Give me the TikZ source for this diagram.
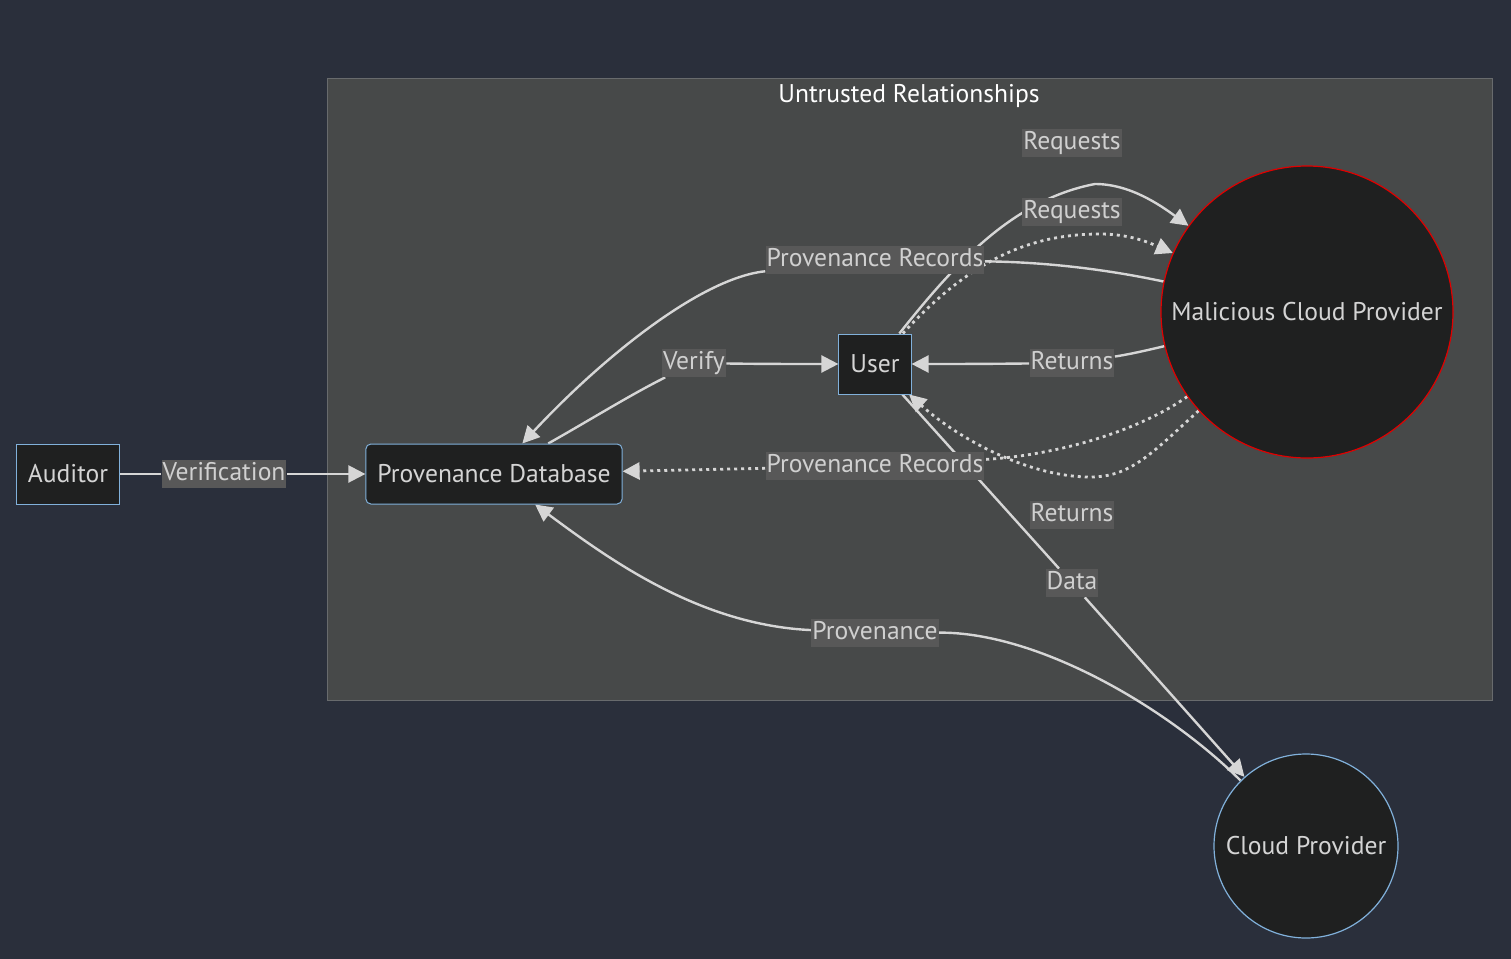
\documentclass[tikz,border=0pt]{standalone}
\usepackage{fontspec}
\setmainfont{PT Sans}
\usetikzlibrary{arrows.meta}

\definecolor{bgcol}{HTML}{2A2F3B}
\definecolor{clusterfill}{HTML}{474949}
\definecolor{clusterline}{HTML}{686B6D}
\definecolor{nodefill}{HTML}{1F2020}
\definecolor{nodeline}{HTML}{81B1DB}
\definecolor{nodetext}{HTML}{D4D4D4}
\definecolor{lblfill}{HTML}{585858}
\definecolor{lbltext}{HTML}{D0D0D0}
\definecolor{linecol}{HTML}{D6D6D6}
\definecolor{evilline}{HTML}{E00000}

\pgfdeclarelayer{back}
\pgfdeclarelayer{edges}
\pgfsetlayers{back,edges,main}

\tikzset{
  labelfont/.style={font=\fontsize{12.8}{15}\selectfont},
  nodebox/.style={draw=nodeline, fill=nodefill, line width=0.5pt, text=nodetext,
    minimum height=30pt, inner xsep=5.75pt, labelfont},
  dbbox/.style={nodebox, rounded corners=2.5pt},
  cloudnode/.style={circle, fill=nodefill, line width=0.6pt, text=nodetext, inner sep=0pt, labelfont},
  lbl/.style={fill=lblfill, text=lbltext, inner xsep=0.5pt, inner ysep=1pt,
    text height=9.2pt, text depth=2.8pt, labelfont},
  conn/.style={draw=linecol, line width=1.2pt},
  arr/.style={-{Triangle[length=8.5pt,width=8.5pt]}},
  dotline/.style={line width=1.4pt, dash pattern=on 1.5pt off 2pt},
}

\begin{document}
\begin{tikzpicture}[x=0.5pt,y=-0.5pt]

\begin{pgfonlayer}{back}
\fill[bgcol] (0,0) rectangle (1511,959);
\draw[draw=clusterline, fill=clusterfill, line width=0.5pt] (327,78) rectangle (1492,700);
\end{pgfonlayer}

\node[text=white, labelfont] (title) at (909,96) {Untrusted Relationships};

% nodes
\node[nodebox] (aud) at (68,474) {Auditor};
\node[dbbox] (db) at (494,474) {Provenance Database};
\node[nodebox] (user) at (875,364) {User};
\node[cloudnode, draw=evilline, minimum size=146pt] (mcp) at (1307,312) {Malicious Cloud Provider};
\node[cloudnode, draw=nodeline, minimum size=92pt] (cp) at (1306,846) {Cloud Provider};

% edge labels
\node[lbl] (verif) at (224,474) {Verification};
\node[lbl] (reqA) at (1072,143) {Requests};
\node[lbl] (reqB) at (1072,212) {Requests};
\node[lbl] (recA) at (875,260) {Provenance Records};
\node[lbl] (verify) at (694,363) {Verify};
\node[lbl] (retA) at (1072,363) {Returns};
\node[lbl] (recB) at (875,466) {Provenance Records};
\node[lbl] (retB) at (1072,515) {Returns};
\node[lbl] (data) at (1072,583) {Data};
\node[lbl] (prov) at (875,633) {Provenance};

\begin{pgfonlayer}{edges}
\draw[conn,arr] (aud) -- (verif) -- (db);
\draw[conn,arr] (user) .. controls (950,270) and (1010,200) .. (1095,184) .. controls (1130,184) and (1160,205) .. (mcp);
\draw[conn,dotline,arr] (user) .. controls (970,260) and (1030,234) .. (1100,234) .. controls (1130,234) and (1150,243) .. (mcp);
\draw[conn,arr] (mcp) .. controls (1100,268) and (1040,262) .. (recA) .. controls (700,278) and (600,360) .. (db);
\draw[conn,arr] (db) .. controls (590,420) and (630,395) .. (verify) .. controls (760,364) and (800,364) .. (user);
\draw[conn,arr] (mcp) .. controls (1140,352) and (1125,355) .. (retA) .. controls (980,364) and (950,364) .. (user);
\draw[conn,dotline,arr] (mcp) .. controls (1140,430) and (1060,455) .. (recB) -- (db);
\draw[conn,dotline,arr] (mcp) .. controls (1150,455) and (1130,477) .. (1090,477) .. controls (1030,477) and (960,440) .. (user);
\draw[conn,arr] (user) -- (data) -- (cp);
\draw[conn,arr] (cp) .. controls (1170,710) and (1040,632) .. (prov) .. controls (700,625) and (610,560) .. (db);
\end{pgfonlayer}

\end{tikzpicture}
\end{document}
